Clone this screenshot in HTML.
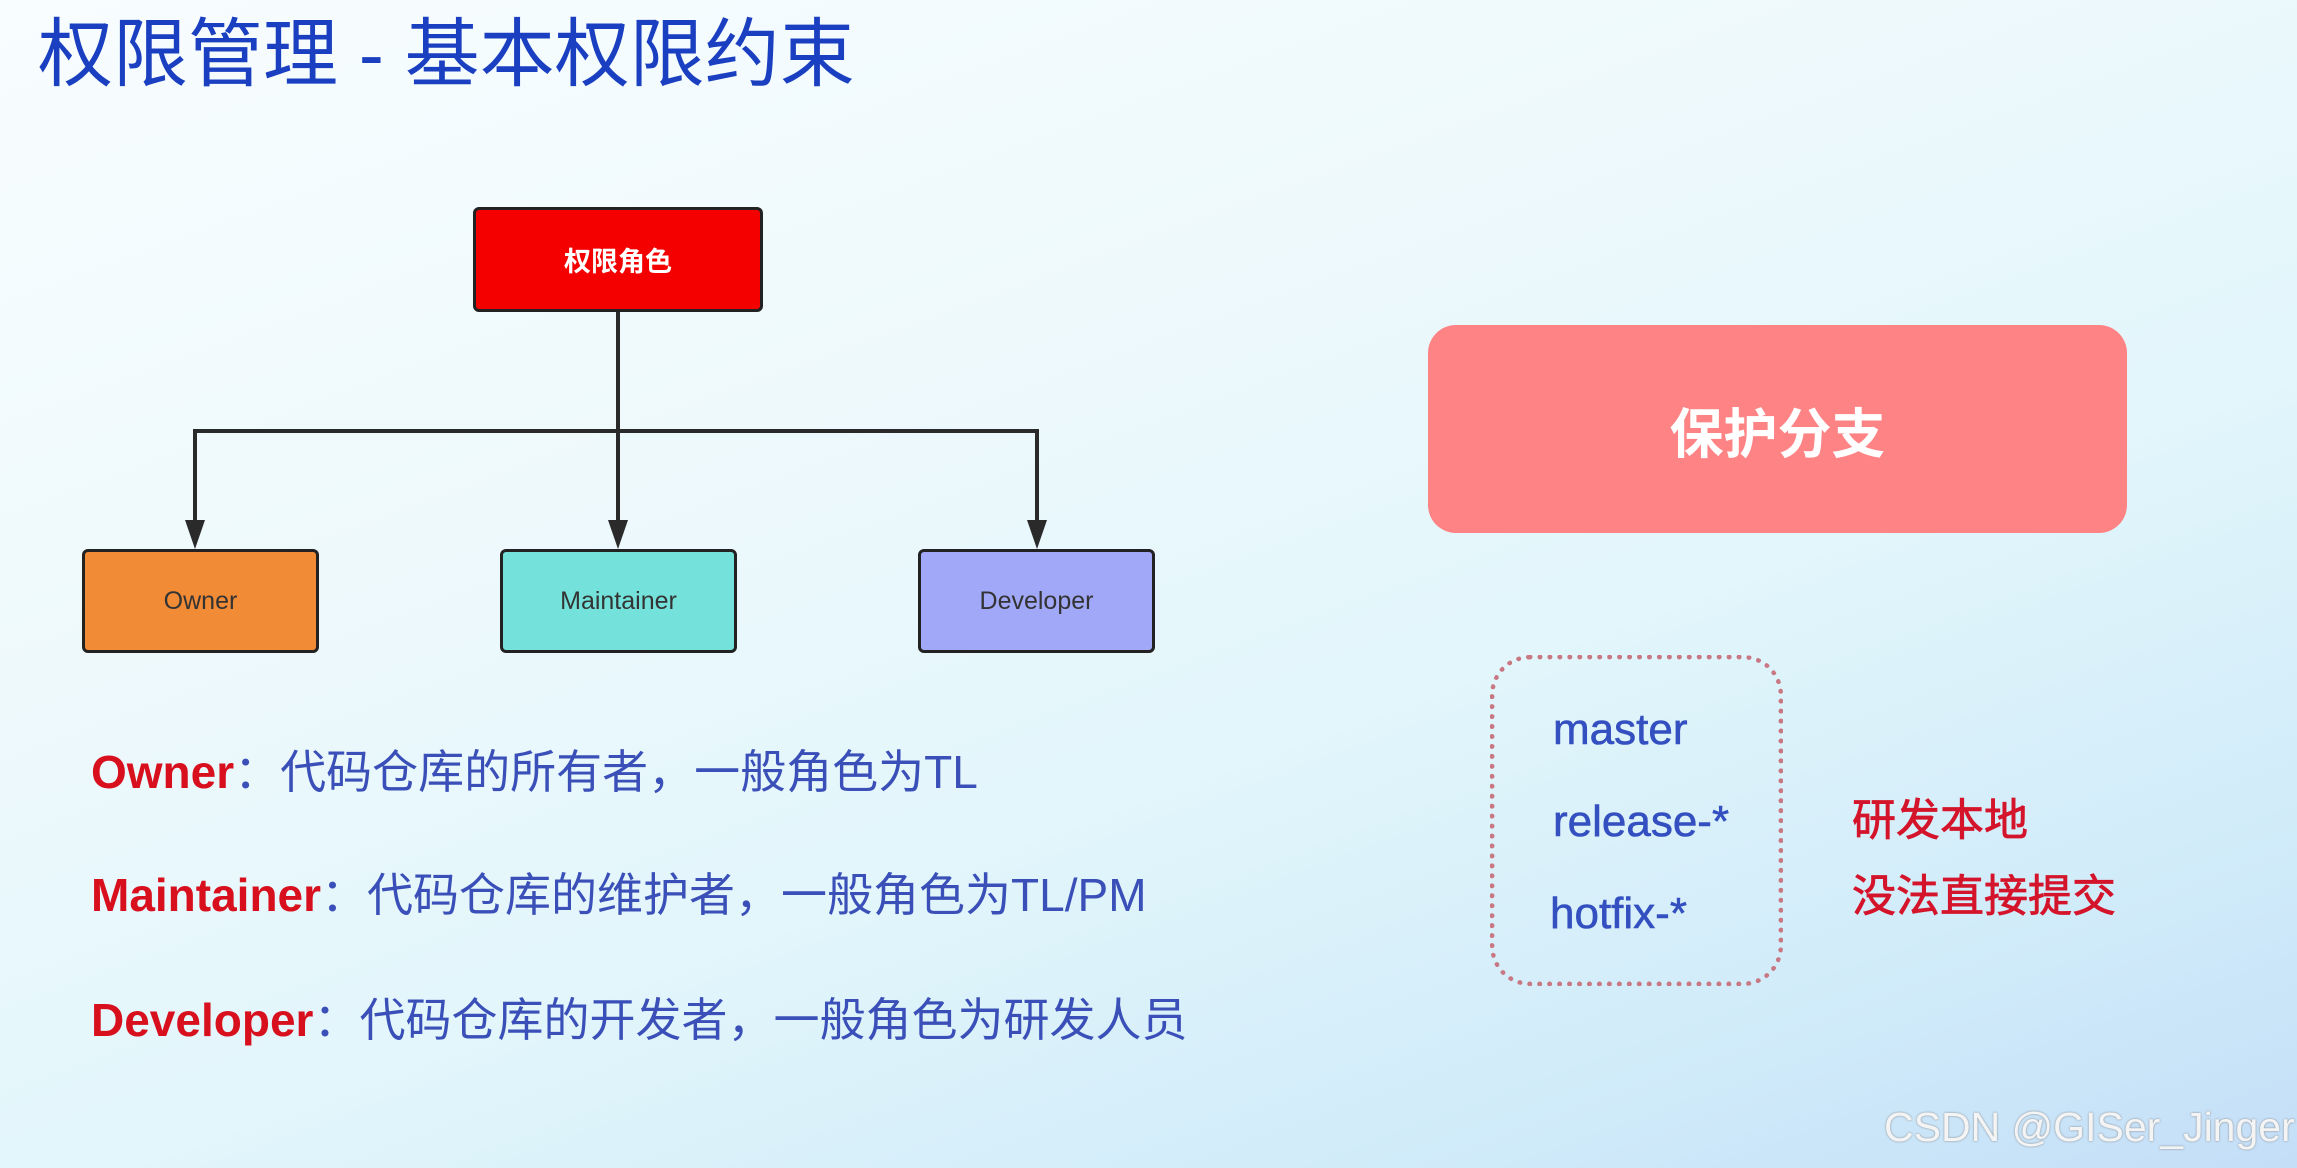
<!DOCTYPE html>
<html><head><meta charset="utf-8"><style>
body{margin:0;width:2297px;height:1168px;overflow:hidden;position:relative;
font-family:"Liberation Sans","Noto Sans CJK SC",sans-serif;
background:linear-gradient(160deg,#f8fdff 0%,#eef9fc 35%,#e2f6fb 60%,#cfeaf9 85%,#c4def8 100%);}
.a{position:absolute;white-space:nowrap}
.box{position:absolute;border:3px solid #222;border-radius:6px;display:flex;align-items:center;justify-content:center;font-size:25px;color:#333;box-sizing:border-box}
.ln{position:absolute;font-size:46px;color:#3a50b8;white-space:nowrap;transform:translateY(-50%)}
.ln b{color:#d8101e;font-weight:900}
</style></head><body>
<div class="a" style="left:38px;top:4px;font-size:75px;color:#1a3fc0;line-height:100px">权限管理 - 基本权限约束</div>

<div class="box" style="left:473px;top:207px;width:290px;height:105px;background:#f40000;color:#fff;font-weight:bold;font-size:27px">权限角色</div>
<svg class="a" style="left:0;top:0" width="1200" height="700">
<g stroke="#2a2a2a" stroke-width="4" fill="none">
<line x1="618" y1="312" x2="618" y2="525"/>
<polyline points="195,525 195,431 1037,431 1037,525"/>
</g>
<g fill="#2a2a2a">
<polygon points="185,520 205,520 195,549"/>
<polygon points="608,520 628,520 618,549"/>
<polygon points="1027,520 1047,520 1037,549"/>
</g>
</svg>
<div class="box" style="left:82px;top:549px;width:237px;height:104px;background:#f28b36">Owner</div>
<div class="box" style="left:500px;top:549px;width:237px;height:104px;background:#74e2da">Maintainer</div>
<div class="box" style="left:918px;top:549px;width:237px;height:104px;background:#a2a8f8">Developer</div>

<div class="ln" style="left:91px;top:769px"><b>Owner</b>：代码仓库的所有者，一般角色为TL</div>
<div class="ln" style="left:91px;top:892px"><b>Maintainer</b>：代码仓库的维护者，一般角色为TL/PM</div>
<div class="ln" style="left:91px;top:1017px"><b>Developer</b>：代码仓库的开发者，一般角色为研发人员</div>

<div class="a" style="left:1428px;top:325px;width:699px;height:208px;border-radius:28px;background:#fe8384;color:#fff;font-weight:bold;font-size:54px;display:flex;align-items:center;justify-content:center">保护分支</div>
<div class="a" style="left:1490px;top:655px;width:293px;height:331px;border:5px dotted #c87882;border-radius:40px;box-sizing:border-box"></div>
<div class="a" style="left:1553px;top:705px;font-size:44px;color:#3450c0;-webkit-text-stroke:0.6px #3450c0">master</div>
<div class="a" style="left:1553px;top:797px;font-size:44px;color:#3450c0;-webkit-text-stroke:0.6px #3450c0">release-*</div>
<div class="a" style="left:1550px;top:889px;font-size:44px;color:#3450c0;-webkit-text-stroke:0.6px #3450c0">hotfix-*</div>
<div class="a" style="left:1852px;top:784px;font-size:44px;color:#d4142a;-webkit-text-stroke:0.8px #d4142a">研发本地</div>
<div class="a" style="left:1852px;top:860px;font-size:44px;color:#d4142a;-webkit-text-stroke:0.8px #d4142a">没法直接提交</div>
<div class="a" style="left:1884px;top:1104px;font-size:41px;color:#f4f4f4;text-shadow:0 0 2px #888">CSDN @GISer_Jinger</div>
</body></html>
